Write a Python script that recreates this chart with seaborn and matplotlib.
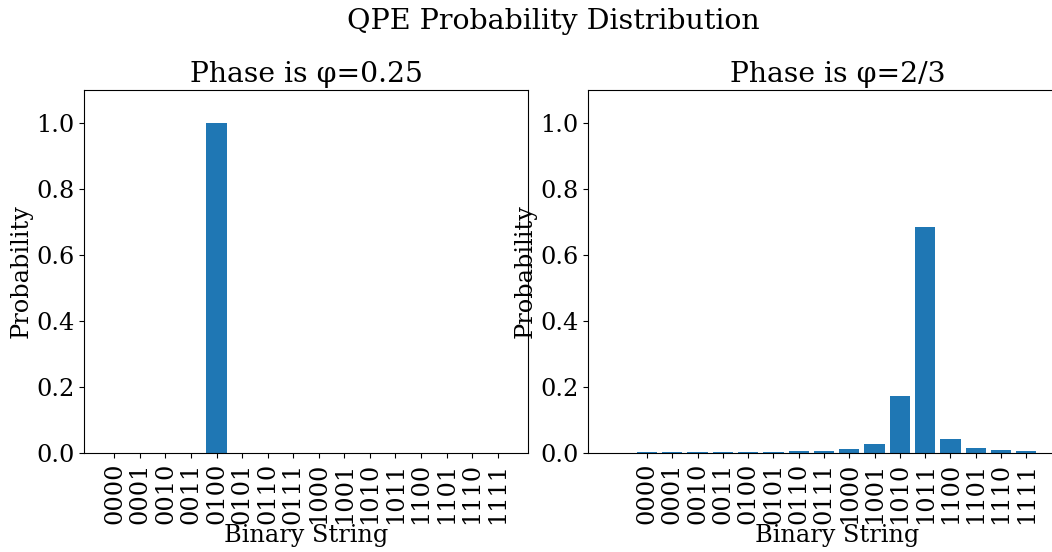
import matplotlib
matplotlib.use("Agg")
import matplotlib.pyplot as plt
import seaborn as sns
import pandas as pd

labels = ["0000", "0001", "0010", "0011", "0100", "0101", "0110", "0111",
          "1000", "1001", "1010", "1011", "1100", "1101", "1110", "1111"]
probs_a = [0, 0, 0, 0, 1.0, 0, 0, 0, 0, 0, 0, 0, 0, 0, 0, 0]
probs_b = [0.0039, 0.0033, 0.0030, 0.0029, 0.0031, 0.0036, 0.0047, 0.0067,
           0.0117, 0.0284, 0.172, 0.685, 0.0437, 0.0150, 0.0079, 0.0052]
title_a = "Phase is φ=0.25"
title_b = "Phase is φ=2/3"

plt.rcParams['font.family'] = ['DejaVu Serif']

fig = plt.figure(figsize=(10.52, 5.52), dpi=100)
ax1 = fig.add_axes([84/1052, 99/552, 444/1052, 363/552])
ax2 = fig.add_axes([588/1052, 99/552, 499/1052, 363/552])

for ax, vals, title, xl in [(ax1, probs_a, title_a, (-1.19, 16.19)),
                            (ax2, probs_b, title_b, (-2.33, 17.4))]:
    df = pd.DataFrame({"Binary String": labels, "Probability": vals})
    sns.barplot(data=df, x="Binary String", y="Probability", ax=ax,
                color="#1f77b4", saturation=1, width=0.8)
    ax.set_xlim(*xl)
    ax.set_ylim(0, 1.1)
    ax.set_title(title, fontsize=20.3)
    ax.set_xlabel("Binary String", fontsize=17.3, labelpad=0)
    ax.set_ylabel("Probability", fontsize=17.3, labelpad=2)
    ax.tick_params(axis='both', labelsize=17.3)
    ax.tick_params(axis='x', labelrotation=90)
    for s in ax.spines.values():
        s.set_visible(True)

fig.suptitle("QPE Probability Distribution", fontsize=20.5, x=553/1052, y=0.985)
fig.savefig("out.png", dpi=100)
